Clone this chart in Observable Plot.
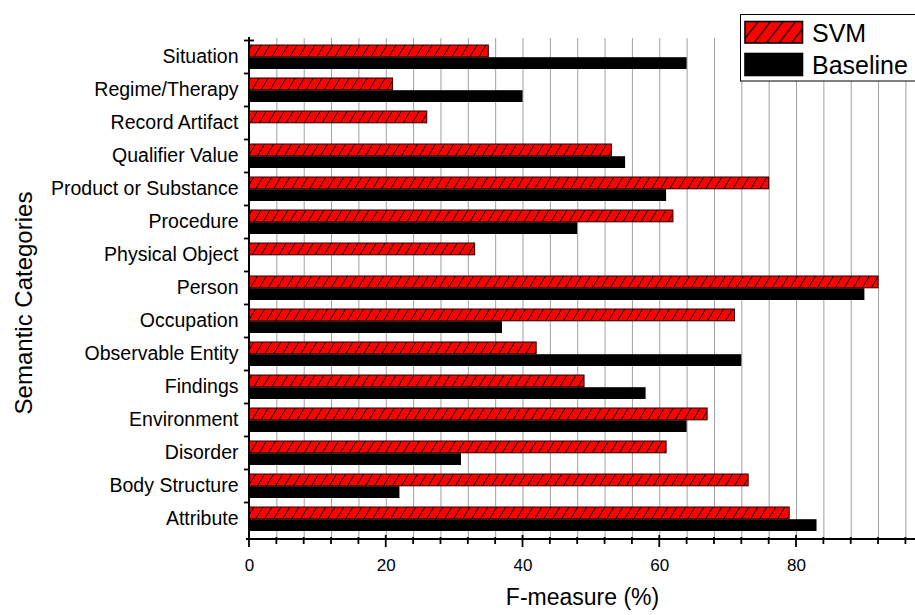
<!DOCTYPE html>
<html>
<head>
<meta charset="utf-8">
<script src="https://cdn.jsdelivr.net/npm/d3@7"></script>
<script src="https://cdn.jsdelivr.net/npm/@observablehq/plot@0.6"></script>
<style>
html, body { margin: 0; padding: 0; background: #fff; }
#wrap { width: 915px; height: 615px; }
</style>
</head>
<body>
<div id="wrap"></div>
<script>
// ---- data ----
const categories = ["Situation", "Regime/Therapy", "Record Artifact", "Qualifier Value", "Product or Substance", "Procedure", "Physical Object", "Person", "Occupation", "Observable Entity", "Findings", "Environment", "Disorder", "Body Structure", "Attribute"];
const svmValues = [35, 21, 26, 53, 76, 62, 33, 92, 71, 42, 49, 67, 61, 73, 79];
const baselineValues = [64, 40, 0, 55, 61, 48, 0, 90, 37, 72, 58, 64, 31, 22, 83];
const xTickLabels = [0, 20, 40, 60, 80];
const seriesNames = ["SVM", "Baseline"];
const xTitle = "F-measure (%)";
const yTitle = "Semantic Categories";

// ---- layout ----
const W = 915, H = 615, MT = 38, MB = 76, ML = 249, MR = 0;
const padIn = 0.27;
const step = (H - MT - MB) / categories.length;
const bw = step * (1 - padIn);
const gridVals = d3.range(4, 97, 4);
const minorVals = d3.range(0, 97, 4);
const FONT = "'Liberation Sans', Arial, Helvetica, sans-serif";

const rows = categories.map((c, i) => ({cat: c, svm: svmValues[i], base: baselineValues[i]}));

function defsMark() {
  const g = d3.create("svg:g");
  const defs = g.append("defs");
  const p = defs.append("pattern").attr("id", "hatchSVM").attr("patternUnits", "userSpaceOnUse")
    .attr("width", 9).attr("height", 15);
  p.append("rect").attr("width", 9).attr("height", 15).attr("fill", "#ff0000");
  p.append("path").attr("d", "M-1,16.67L10,-1.67M-10,16.67L1,-1.67M8,16.67L19,-1.67")
    .attr("stroke", "#000").attr("stroke-width", 1).attr("fill", "none");
  const q = defs.append("pattern").attr("id", "hatchLeg").attr("patternUnits", "userSpaceOnUse")
    .attr("width", 12.5).attr("height", 16);
  q.append("rect").attr("width", 12.5).attr("height", 16).attr("fill", "#ff0000");
  q.append("path").attr("d", "M-1,17.28L13.5,-1.28M-13.5,17.28L1,-1.28M11.5,17.28L26,-1.28")
    .attr("stroke", "#000").attr("stroke-width", 1.2).attr("fill", "none");
  return g.node();
}

function axesMark(index, scales, values, dims) {
  const L = dims.marginLeft, T = dims.marginTop;
  const bottom = dims.height - dims.marginBottom;
  const st = (bottom - T) / categories.length;
  const x = scales.x, y = scales.y;
  const g = d3.create("svg:g").attr("stroke", "#000").attr("fill", "none");
  g.append("line").attr("x1", L).attr("x2", L).attr("y1", T - 1).attr("y2", bottom + 1).attr("stroke-width", 2);
  g.append("line").attr("x1", L - 3).attr("x2", dims.width).attr("y1", bottom).attr("y2", bottom).attr("stroke-width", 2);
  categories.forEach((c, i) => {
    const b = y(c) - st * padIn / 2;
    g.append("line").attr("x1", L - 5).attr("x2", i === 0 ? L + 5 : L)
      .attr("y1", b).attr("y2", b).attr("stroke-width", 1.8);
  });
  minorVals.forEach(v => {
    const major = v % 20 === 0;
    const px = x(v);
    g.append("line").attr("x1", px).attr("x2", px)
      .attr("y1", bottom - (major ? 4 : 2)).attr("y2", bottom + (major ? 8 : 5))
      .attr("stroke-width", 1.8);
  });
  return g.node();
}

function legendMark() {
  const g = d3.create("svg:g").attr("font-family", FONT).attr("text-anchor", "start");
  g.append("rect").attr("x", 740.5).attr("y", 14.5).attr("width", 185).attr("height", 66.5)
    .attr("fill", "#fff").attr("stroke", "#000").attr("stroke-width", 1);
  g.append("rect").attr("x", 745).attr("y", 21.5).attr("width", 57.5).attr("height", 21.5)
    .attr("fill", "url(#hatchLeg)").attr("stroke", "#000").attr("stroke-width", 1.6);
  g.append("rect").attr("x", 745).attr("y", 53.5).attr("width", 57.5).attr("height", 22)
    .attr("fill", "#000").attr("stroke", "#000").attr("stroke-width", 1.6);
  g.append("text").attr("x", 812).attr("y", 41.7).attr("font-size", 25).attr("text-anchor", "start")
    .attr("fill", "#000").text(seriesNames[0]);
  g.append("text").attr("x", 812).attr("y", 74).attr("font-size", 25).attr("text-anchor", "start")
    .attr("fill", "#000").text(seriesNames[1]);
  return g.node();
}

const chart = Plot.plot({
  width: W, height: H,
  marginLeft: ML, marginRight: MR, marginTop: MT, marginBottom: MB,
  style: {fontFamily: FONT, background: "#fff", color: "#000"},
  x: {domain: [0, 97.4]},
  y: {domain: categories, paddingInner: padIn, paddingOuter: padIn / 2},
  marks: [
    defsMark,
    Plot.ruleX(gridVals, {stroke: "#a0a0a0", strokeWidth: 1}),
    Plot.barX(rows, {y: "cat", x: "svm", fill: "url(#hatchSVM)", stroke: "#200000", strokeWidth: 1, insetBottom: bw / 2}),
    Plot.barX(rows.filter(d => d.base > 0), {y: "cat", x: "base", fill: "#000", insetTop: bw / 2}),
    Plot.axisY({tickSize: 0, tickPadding: 11, fontSize: 19.5, dy: -0.5, label: null}),
    Plot.axisX({ticks: xTickLabels, tickSize: 0, tickPadding: 19, fontSize: 17, label: null}),
    axesMark,
    Plot.text([xTitle], {text: d => d, frameAnchor: "bottom", dy: 65, fontSize: 23}),
    Plot.text([yTitle], {text: d => d, frameAnchor: "left", textAnchor: "middle", rotate: -90, dx: -225, dy: 14, fontSize: 24}),
    legendMark
  ]
});
document.getElementById("wrap").appendChild(chart);
</script>
</body>
</html>
